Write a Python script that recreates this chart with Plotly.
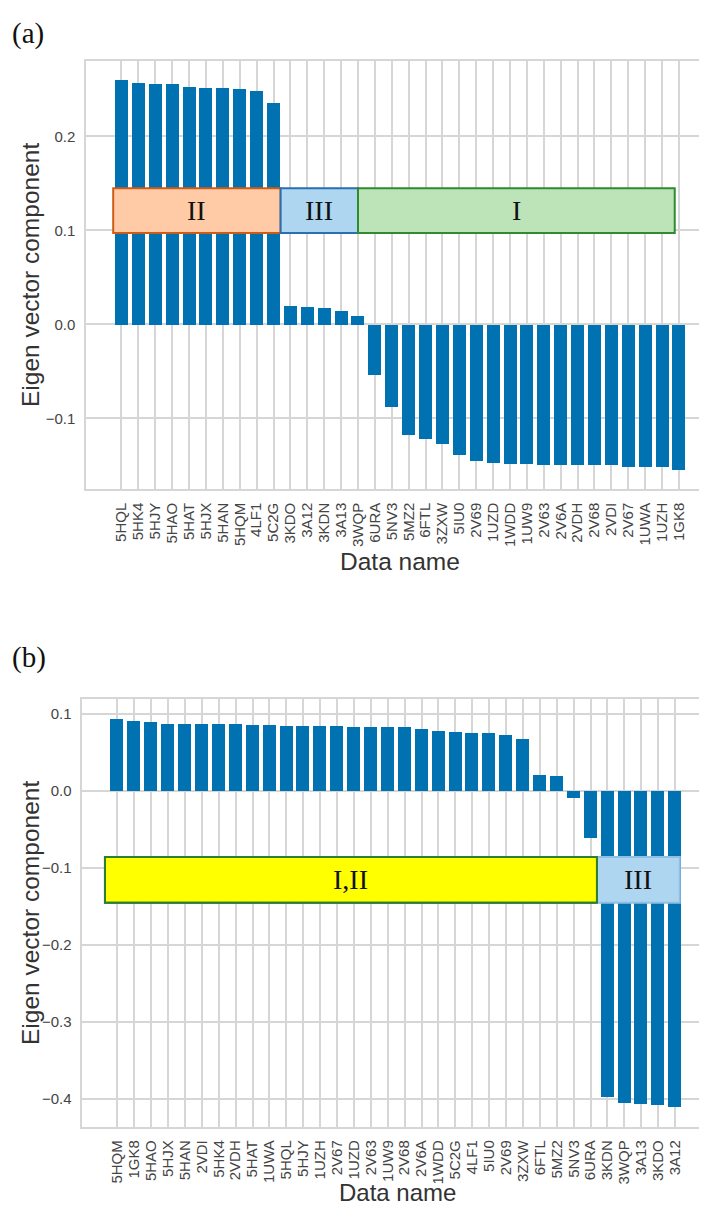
import plotly.graph_objects as go

# ---------------- data ----------------
names_a = ["5HQL", "5HK4", "5HJY", "5HAO", "5HAT", "5HJX", "5HAN", "5HQM", "4LF1", "5C2G",
           "3KDO", "3A12", "3KDN", "3A13", "3WQP",
           "6URA", "5NV3", "5MZ2", "6FTL", "3ZXW", "5IU0", "2V69", "1UZD", "1WDD", "1UW9",
           "2V63", "2V6A", "2VDH", "2V68", "2VDI", "2V67", "1UWA", "1UZH", "1GK8"]
vals_a = [0.260, 0.2565, 0.256, 0.2555, 0.2525, 0.252, 0.252, 0.251, 0.248, 0.236,
          0.0196, 0.0185, 0.0178, 0.015, 0.009,
          -0.054, -0.088, -0.117, -0.1216, -0.1266, -0.1387, -0.1447, -0.1469, -0.1483, -0.1483,
          -0.149, -0.149, -0.149, -0.149, -0.1494, -0.1515, -0.152, -0.152, -0.155]

names_b = ["5HQM", "1GK8", "5HAO", "5HJX", "5HAN", "2VDI", "5HK4", "2VDH", "5HAT", "1UWA",
           "5HQL", "5HJY", "1UZH", "2V67", "1UZD", "2V63", "1UW9", "2V68", "2V6A", "1WDD",
           "5C2G", "4LF1", "5IU0", "2V69", "3ZXW", "6FTL", "5MZ2", "5NV3", "6URA",
           "3KDN", "3WQP", "3A13", "3KDO", "3A12"]
vals_b = [0.094, 0.0909, 0.0896, 0.0875, 0.0875, 0.0875, 0.0866, 0.0866, 0.0853, 0.0853,
          0.0849, 0.0844, 0.084, 0.084, 0.0836, 0.0836, 0.0831, 0.083, 0.081, 0.0784,
          0.0762, 0.0758, 0.0753, 0.0727, 0.0671, 0.0204, 0.0195, -0.0087, -0.0614,
          -0.397, -0.4047, -0.4069, -0.4073, -0.4104]

# group boxes (label, start, end, ymin, ymax) in axis units
groups_a = [("II", -0.49, 9.42, 0.097, 0.1447),
            ("III", 9.42, 14.0, 0.097, 0.1447),
            ("I", 14.0, 32.75, 0.097, 0.1447)]
groups_b = [("I,II", -0.73, 28.38, -0.145, -0.0857),
            ("III", 28.38, 33.28, -0.145, -0.0857)]

# ---------------- styles ----------------
PAGE_W, PAGE_H = 707, 1208
OFF = 8  # default page body margin
W, H = PAGE_W - OFF, PAGE_H - OFF
BAR = "#0072B2"
GRID = "#d6d6d6"
SANS = "Liberation Sans, Arial, sans-serif"
SERIF = "Liberation Serif, Times New Roman, serif"
box_style_a = {"II": ("#FFCBA6", "#CF5B17"),
               "III": ("#AED6F0", "#2A6FB0"),
               "I": ("#BDE3B8", "#2E8B2E")}
box_style_b = {"I,II": ("#FFFF00", "#2E7D32"),
               "III": ("#AED6F0", "#8FC0E3")}

fig = go.Figure()
fig.add_trace(go.Bar(x=names_a, y=vals_a, marker=dict(color=BAR, line=dict(width=0)),
                     width=0.77, xaxis="x", yaxis="y", showlegend=False))
fig.add_trace(go.Bar(x=names_b, y=vals_b, marker=dict(color=BAR, line=dict(width=0)),
                     width=0.77, xaxis="x2", yaxis="y2", showlegend=False))

def px_x(p):
    return (p - OFF) / W

def px_y(p):
    return 1 - (p - OFF) / H

xcommon = dict(type="category", showgrid=True, gridcolor=GRID, gridwidth=1.5,
               showline=True, linecolor=GRID, linewidth=1.5, mirror=True,
               tickangle=-90, ticks="outside", ticklen=6, tickcolor="rgba(0,0,0,0)",
               tickfont=dict(family=SANS, size=15, color="#444"), zeroline=False)
ycommon = dict(showgrid=True, gridcolor=GRID, gridwidth=1.5,
               showline=True, linecolor=GRID, linewidth=1.5, mirror=False,
               ticks="outside", ticklen=6, tickcolor="rgba(0,0,0,0)", tickformat=".1f",
               tickfont=dict(family=SANS, size=15, color="#444"), zeroline=False)

fig.update_layout(
    width=W, height=H, autosize=False,
    margin=dict(l=0, r=0, t=0, b=0),
    paper_bgcolor="white", plot_bgcolor="white",
    bargap=0,
    xaxis=dict(xcommon, domain=[px_x(86), 1.0], range=[-2.10, 34.66], anchor="y",
               tickmode="array", tickvals=names_a, ticktext=names_a),
    yaxis=dict(ycommon, domain=[px_y(489), px_y(60.7)], range=[-0.1752, 0.2804],
               tickvals=[-0.1, 0.0, 0.1, 0.2], anchor="x"),
    xaxis2=dict(xcommon, domain=[px_x(82.3), 1.0], range=[-2.07, 34.89], anchor="y2",
                tickmode="array", tickvals=names_b, ticktext=names_b),
    yaxis2=dict(ycommon, domain=[px_y(1126.5), px_y(699)], range=[-0.4357, 0.1195],
                tickvals=[-0.4, -0.3, -0.2, -0.1, 0.0, 0.1], anchor="x2"),
)

shapes = []
annots = []
for lab, x0, x1, y0, y1 in groups_a:
    fill, line = box_style_a[lab]
    shapes.append(dict(type="rect", xref="x", yref="y", x0=x0, x1=x1, y0=y0, y1=y1,
                       fillcolor=fill, line=dict(color=line, width=2), layer="above"))
    annots.append(dict(xref="x", yref="y", x=(x0 + x1) / 2, y=(y0 + y1) / 2, text=lab,
                       xanchor="center", yanchor="middle",
                       showarrow=False, font=dict(family=SERIF, size=28, color="#111")))
for lab, x0, x1, y0, y1 in groups_b:
    fill, line = box_style_b[lab]
    shapes.append(dict(type="rect", xref="x2", yref="y2", x0=x0, x1=x1, y0=y0, y1=y1,
                       fillcolor=fill, line=dict(color=line, width=2), layer="above"))
shapes.append(dict(type="rect", xref="x2", yref="y2", x0=groups_b[0][1], x1=groups_b[0][2],
                   y0=groups_b[0][3], y1=groups_b[0][4], fillcolor="rgba(0,0,0,0)",
                   line=dict(color=box_style_b["I,II"][1], width=2), layer="above"))
for lab, x0, x1, y0, y1 in groups_b:
    annots.append(dict(xref="x2", yref="y2", x=(x0 + x1) / 2, y=(y0 + y1) / 2, text=lab,
                       xanchor="center", yanchor="middle",
                       showarrow=False, font=dict(family=SERIF, size=28, color="#111")))

def text_at(x, y, text, size, family, color, angle=0, xanchor="center", yanchor="middle"):
    return dict(xref="paper", yref="paper", x=px_x(x), y=px_y(y), text=text,
                textangle=angle, xanchor=xanchor, yanchor=yanchor, showarrow=False,
                font=dict(family=family, size=size, color=color))

annots += [
    text_at(30, 275, "Eigen vector component", 24.5, SANS, "#333", angle=-90),
    text_at(400, 561, "Data name", 24.5, SANS, "#333"),
    text_at(30, 913, "Eigen vector component", 24.5, SANS, "#333", angle=-90),
    text_at(398, 1208, "Data name", 24, SANS, "#333", yanchor="bottom"),
    text_at(10, 33, "(a)", 29, SERIF, "#111", xanchor="left"),
    text_at(10, 657, "(b)", 29, SERIF, "#111", xanchor="left"),
]

fig.update_layout(shapes=shapes, annotations=annots)
fig.write_html("out.html")
